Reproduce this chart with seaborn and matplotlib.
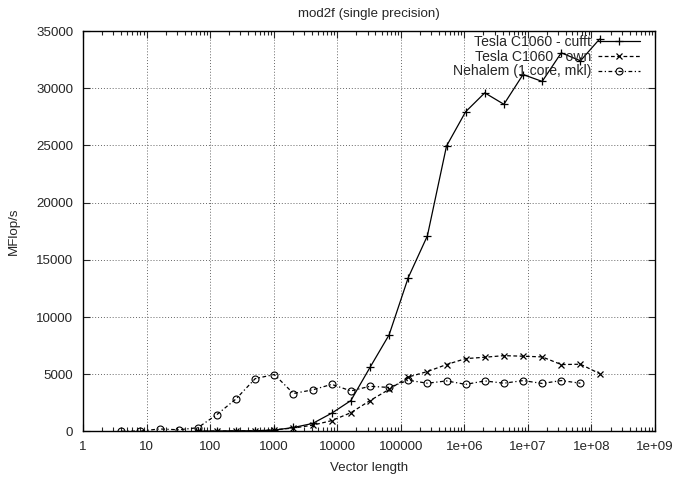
import numpy as np
import pandas as pd
import matplotlib
matplotlib.use("Agg")
import matplotlib.pyplot as plt
import seaborn as sns
from matplotlib.ticker import LogLocator, NullFormatter

sns.set_style("ticks")
plt.rcParams['font.family'] = ['Liberation Sans', 'DejaVu Sans']

title = "mod2f (single precision)"
xlabel = "Vector length"
ylabel = "MFlop/s"

gpu_n = [2**k for k in range(6, 28)]
cufft = [30, 40, 60, 60, 120, 350, 700, 1600, 2700, 5600, 8450, 13450, 17100,
         24950, 27950, 29600, 28600, 31200, 30600, 33100, 32400, 34300]
own = [20, 30, 40, 50, 150, 300, 550, 950, 1640, 2700, 3680, 4760, 5240,
       5850, 6370, 6490, 6630, 6580, 6520, 5850, 5880, 5060]
cpu_n = [2**k for k in range(2, 27)]
nehalem = [20, 40, 220, 150, 330, 1480, 2850, 4620, 4980, 3320, 3640, 4120,
           3550, 3950, 3850, 4480, 4220, 4420, 4120, 4420, 4220, 4450, 4200,
           4450, 4220]

labels = ["Tesla C1060 - cufft", "Tesla C1060 - own", "Nehalem (1 core, mkl)"]
xtick_vals = [10**k for k in range(0, 10)]
xtick_labels = ["1", "10", "100", "1000", "10000", "100000", "1e+06", "1e+07", "1e+08", "1e+09"]
ytick_vals = list(range(0, 35001, 5000))

df_cufft = pd.DataFrame({"n": gpu_n, "v": cufft})
df_own = pd.DataFrame({"n": gpu_n, "v": own})
df_neh = pd.DataFrame({"n": cpu_n, "v": nehalem})

fig = plt.figure(figsize=(6.77, 4.78), dpi=100)
ax = fig.add_axes([0.1226, 0.0973, 0.9675 - 0.1226, 0.935 - 0.0973])

fs = 9.6
sns.lineplot(data=df_cufft, x="n", y="v", ax=ax, color="black", lw=0.9,
             marker="+", markersize=6, markeredgewidth=0.9,
             markeredgecolor="black", label=labels[0])
sns.lineplot(data=df_own, x="n", y="v", ax=ax, color="black", lw=0.9,
             marker="x", markersize=4.8, markeredgewidth=0.9,
             markeredgecolor="black", label=labels[1])
sns.lineplot(data=df_neh, x="n", y="v", ax=ax, color="black", lw=0.9,
             marker="o", markersize=5, markerfacecolor="none",
             markeredgecolor="black", markeredgewidth=0.8, label=labels[2])
for ln in ax.get_lines():
    lab = ln.get_label()
    if lab == labels[0]:
        ln.set_linestyle("-")
    elif lab == labels[1]:
        ln.set_linestyle((0, (3, 2)))
    elif lab == labels[2]:
        ln.set_linestyle((0, (3, 2, 1, 2)))

ax.set_xscale("log")
ax.set_xlim(1, 1e9)
ax.set_ylim(0, 35000)
ax.set_xticks(xtick_vals)
ax.set_xticklabels(xtick_labels, fontsize=fs)
ax.xaxis.set_minor_locator(LogLocator(base=10, subs=np.arange(2, 10), numticks=100))
ax.xaxis.set_minor_formatter(NullFormatter())
ax.set_yticks(ytick_vals)
ax.set_yticklabels([str(v) for v in ytick_vals], fontsize=fs)

ax.tick_params(which="both", direction="in", top=True, right=True, width=0.8)
ax.tick_params(which="major", length=5, pad=7)
ax.tick_params(which="minor", length=3)
ax.grid(True, which="major", color="0.4", linestyle=(0, (1, 2)), lw=0.7)
for s in ax.spines.values():
    s.set_linewidth(1.0)
    s.set_color("black")

ax.set_title(title, fontsize=fs, pad=10)
ax.set_xlabel(xlabel, fontsize=fs, labelpad=6)
ax.set_ylabel(ylabel, fontsize=fs, labelpad=12)

leg = ax.legend(loc="upper right", bbox_to_anchor=(1 - 15 / 572, 1 - 4 / 400),
                frameon=False, markerfirst=False,
                fontsize=fs + 0.5, handlelength=3.0, handletextpad=0.5,
                labelspacing=0.05, borderaxespad=0, borderpad=0)
for t in leg.get_texts():
    t.set_ha("right")
leg._legend_box.align = "right"

fig.savefig("out.png", dpi=100)
